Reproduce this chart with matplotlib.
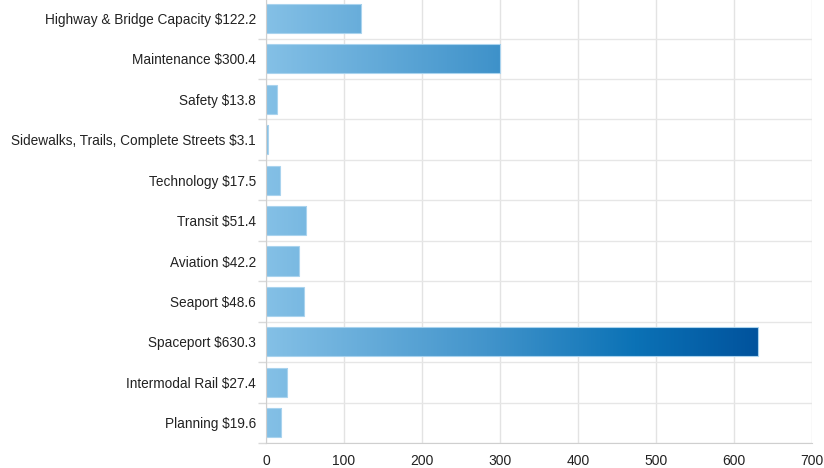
import numpy as np
import matplotlib
matplotlib.use("Agg")
import matplotlib.pyplot as plt
from matplotlib.colors import LinearSegmentedColormap

categories = [
    "Highway & Bridge Capacity $122.2",
    "Maintenance $300.4",
    "Safety $13.8",
    "Sidewalks, Trails, Complete Streets $3.1",
    "Technology $17.5",
    "Transit $51.4",
    "Aviation $42.2",
    "Seaport $48.6",
    "Spaceport $630.3",
    "Intermodal Rail $27.4",
    "Planning $19.6",
]
values = [122.2, 300.4, 13.8, 3.1, 17.5, 51.4, 42.2, 48.6, 630.3, 27.4, 19.6]
xticks = [0, 100, 200, 300, 400, 500, 600, 700]

plt.rcParams['font.family'] = ['Liberation Sans', 'DejaVu Sans']

fig = plt.figure(figsize=(8.24, 4.68), dpi=100)
ax = fig.add_axes([266 / 824, 1 - 443 / 468, (812 - 266) / 824, 443 / 468 + 0.004])

cmap = LinearSegmentedColormap.from_list(
    "grad", [(0.0, "#84c0e6"), (0.45, "#4294cb"), (0.75, "#0b72b6"), (1.0, "#01539d")]
)
vmax = max(values)

n = len(categories)
ypos = np.arange(n)
bars = ax.barh(ypos, values, height=0.72, color="none", edgecolor="#a9d3ee",
               linewidth=0.8, zorder=3)

grad = np.linspace(0, 1, 512).reshape(1, -1)
for b in bars:
    x0, y0 = b.get_x(), b.get_y()
    h = b.get_height()
    im = ax.imshow(grad, cmap=cmap, aspect="auto", extent=(0, vmax, y0, y0 + h),
                   origin="lower", zorder=2, interpolation="bilinear")
    im.set_clip_path(b)

ax.set_xlim(0, 700)
ax.set_ylim(n - 0.5, -0.5)
ax.set_xticks(xticks)
ax.set_xticklabels([str(t) for t in xticks])
ax.set_yticks(ypos)
ax.set_yticklabels(categories)
ax.set_yticks(np.arange(n + 1) - 0.5, minor=True)
ax.set_xticks([0], minor=True)

ax.tick_params(axis="y", which="major", length=0, pad=7.3, labelsize=9.8, labelcolor="#222222")
ax.tick_params(axis="y", which="minor", length=6, color="#d9d9d9", width=1)
ax.tick_params(axis="x", which="major", length=0, pad=8, labelsize=10, labelcolor="#222222")
ax.tick_params(axis="x", which="minor", length=5, color="#cfcfcf", width=1)

ax.grid(axis="x", which="major", color="#e3e3e3", linewidth=1, zorder=0)
ax.grid(axis="y", which="minor", color="#e6e6e6", linewidth=1, zorder=0)
ax.set_axisbelow(True)

for s in ["top", "right"]:
    ax.spines[s].set_visible(False)
ax.spines["left"].set_color("#cfcfcf")
ax.spines["bottom"].set_color("#cfcfcf")
ax.spines["left"].set_zorder(4)

fig.savefig("out.png", dpi=100)
